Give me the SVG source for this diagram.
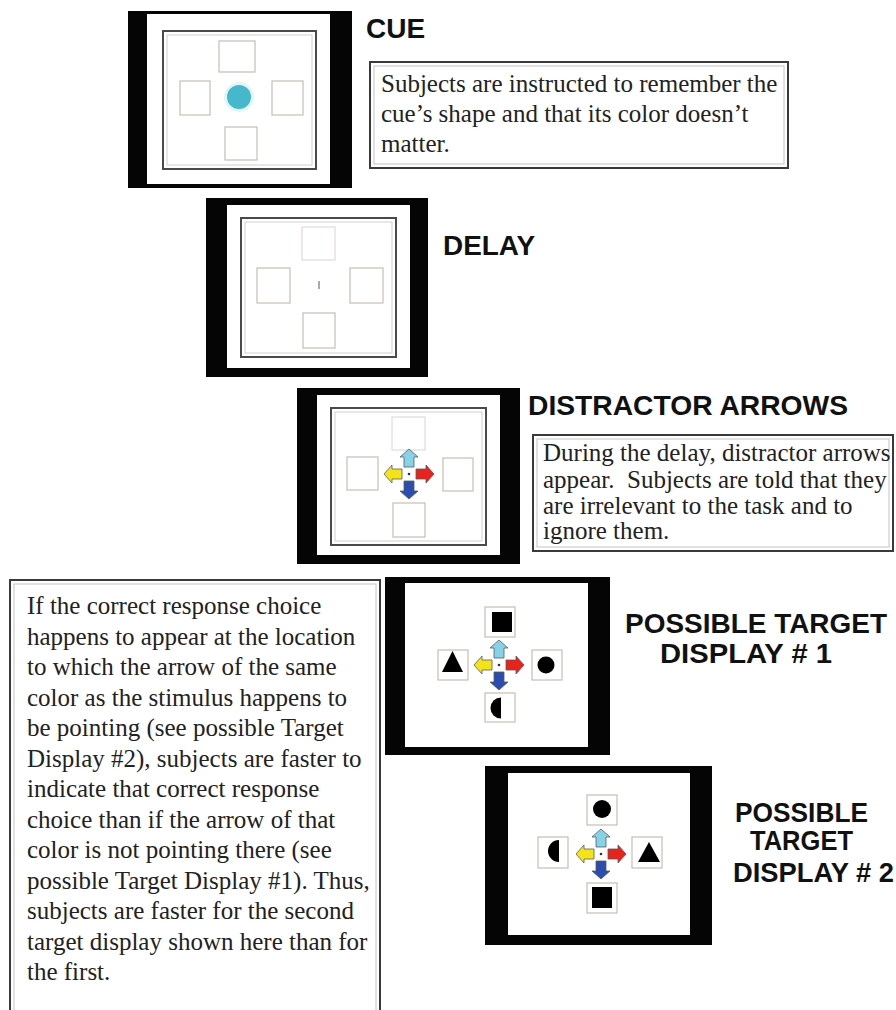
<svg xmlns="http://www.w3.org/2000/svg" xmlns:xlink="http://www.w3.org/1999/xlink" width="896" height="1010" viewBox="0 0 896 1010">
<style>
.frame{fill:#050505}
.screen{fill:#fff}
.inner{fill:none;stroke:#4a4a4a;stroke-width:2}
.inner2{fill:none;stroke:#cfcfcf;stroke-width:1}
.slot{fill:#fff;stroke:#c9bcb4;stroke-width:1.2}
.faint{fill:#fff;stroke:#ddd4ce;stroke-width:1}
.shape{fill:#000}
.title{font-family:"Liberation Sans",Arial,sans-serif;font-weight:bold;font-size:28px;fill:#111}
.body{font-family:"Liberation Serif","Times New Roman",serif;font-size:25px;fill:#222}
.box{fill:#fff;stroke:#3a3a3a;stroke-width:2}
.box2{fill:none;stroke:#c4c4c4;stroke-width:1}
.arrow{stroke:#5a5a5a;stroke-width:0.8}
</style>
<defs>
<path id="arr" d="M0,-25 L9,-17 L5,-17 L5,-7 L-5,-7 L-5,-17 L-9,-17 Z"/>
<g id="arrows">
<use xlink:href="#arr" class="arrow" fill="#86d2e6"/>
<use xlink:href="#arr" class="arrow" fill="#f3e41a" transform="rotate(-90)"/>
<use xlink:href="#arr" class="arrow" fill="#e8221c" transform="rotate(90)"/>
<use xlink:href="#arr" class="arrow" fill="#2a4db0" transform="rotate(180)"/>
<circle r="1.3" fill="#333"/>
</g>
</defs>
<rect width="896" height="1010" fill="#fff"/>

<g id="panel-cue">
<rect class="frame" x="128" y="11" width="224" height="177"/>
<rect class="screen" x="147" y="14" width="183" height="170"/>
<rect class="inner" x="163" y="31" width="153" height="138"/>
<rect class="inner2" x="167" y="35" width="145" height="130"/>
<rect class="slot" x="219" y="41" width="36" height="31"/>
<rect class="slot" x="180" y="81" width="30" height="34"/>
<rect class="slot" x="272" y="81" width="31" height="34"/>
<rect class="slot" x="225" y="127" width="32" height="33"/>
<circle cx="239" cy="97" r="15" fill="#e3f5f8"/>
<circle cx="239" cy="97" r="12" fill="#45b8cb"/>
</g>

<g id="panel-delay">
<rect class="frame" x="206" y="198" width="222" height="179"/>
<rect class="screen" x="227" y="205" width="183" height="163"/>
<rect class="inner" x="241" y="218" width="155" height="139"/>
<rect class="inner2" x="245" y="222" width="147" height="131"/>
<rect class="faint" x="302" y="227" width="33" height="33"/>
<rect class="slot" x="257" y="268" width="33" height="35"/>
<rect class="slot" x="350" y="268" width="33" height="35"/>
<rect class="slot" x="303" y="313" width="32" height="35"/>
<line x1="319" y1="281" x2="319" y2="289" stroke="#555" stroke-width="1"/>
</g>

<g id="panel-distractor">
<rect class="frame" x="297" y="388" width="223" height="176"/>
<rect class="screen" x="317" y="395" width="183" height="160"/>
<rect class="inner" x="331" y="408" width="155" height="137"/>
<rect class="inner2" x="335" y="412" width="147" height="129"/>
<rect class="faint" x="392" y="417" width="33" height="33"/>
<rect class="slot" x="347" y="457" width="31" height="33"/>
<rect class="slot" x="443" y="458" width="30" height="33"/>
<rect class="slot" x="393" y="503" width="32" height="34"/>
<use xlink:href="#arrows" transform="translate(409,474)"/>
</g>

<g id="panel-target1">
<rect class="frame" x="385" y="577" width="225" height="178"/>
<rect class="screen" x="405" y="583" width="183" height="164"/>
<rect class="slot" x="485" y="607" width="30" height="30"/>
<rect class="shape" x="492" y="612" width="20" height="20"/>
<rect class="slot" x="438" y="650" width="30" height="30"/>
<polygon class="shape" points="452.5,651 463,672 442,672"/>
<rect class="slot" x="532" y="650" width="30" height="30"/>
<circle class="shape" cx="546" cy="665" r="8.5"/>
<rect class="slot" x="485" y="693" width="30" height="29"/>
<path class="shape" d="M501,697.5 A10.5,10.5 0 0 0 501,718.5 Z"/>
<use xlink:href="#arrows" transform="translate(499,665)"/>
</g>

<g id="panel-target2">
<rect class="frame" x="485" y="766" width="227" height="179"/>
<rect class="screen" x="508" y="773" width="182" height="162"/>
<rect class="slot" x="587" y="795" width="30" height="30"/>
<circle class="shape" cx="602" cy="809" r="9"/>
<rect class="slot" x="538" y="837" width="30" height="31"/>
<path class="shape" d="M559,840 A11,11 0 0 0 559,862 Z"/>
<rect class="slot" x="632" y="837" width="30" height="31"/>
<polygon class="shape" points="649,842 660,862 638,862"/>
<rect class="slot" x="587" y="883" width="30" height="30"/>
<rect class="shape" x="592" y="887" width="20" height="21"/>
<use xlink:href="#arrows" transform="translate(601,854)"/>
</g>

<g id="label-cue">
<text class="title" x="366" y="38">CUE</text>
</g>
<g id="label-delay">
<text class="title" x="443" y="255" textLength="92" lengthAdjust="spacingAndGlyphs">DELAY</text>
</g>
<g id="label-distractor">
<text class="title" x="528" y="415" textLength="320" lengthAdjust="spacingAndGlyphs">DISTRACTOR ARROWS</text>
</g>
<g id="label-target1">
<text class="title" x="625" y="633" textLength="262" lengthAdjust="spacingAndGlyphs">POSSIBLE TARGET</text>
<text class="title" x="660" y="663" textLength="172" lengthAdjust="spacingAndGlyphs">DISPLAY # 1</text>
</g>
<g id="label-target2">
<text class="title" x="735" y="822" textLength="133" lengthAdjust="spacingAndGlyphs">POSSIBLE</text>
<text class="title" x="750" y="850" textLength="103" lengthAdjust="spacingAndGlyphs">TARGET</text>
<text class="title" x="733" y="882" textLength="161" lengthAdjust="spacingAndGlyphs">DISPLAY # 2</text>
</g>

<g id="note-cue">
<rect class="box" x="370" y="62" width="418" height="106"/>
<rect class="box2" x="374" y="66" width="410" height="98"/>
<text class="body" x="381" y="92">Subjects are instructed to remember the</text>
<text class="body" x="381" y="122">cue’s shape and that its color doesn’t</text>
<text class="body" x="381" y="152">matter.</text>
</g>

<g id="note-distractor">
<rect class="box" x="533" y="435" width="360" height="116"/>
<rect class="box2" x="537" y="439" width="352" height="108"/>
<text class="body" x="543" y="461">During the delay, distractor arrows</text>
<text class="body" x="543" y="488" xml:space="preserve">appear.  Subjects are told that they</text>
<text class="body" x="543" y="514">are irrelevant to the task and to</text>
<text class="body" x="543" y="539">ignore them.</text>
</g>

<g id="note-explanation">
<rect class="box" x="10" y="580" width="370" height="440"/>
<rect class="box2" x="14" y="584" width="362" height="440"/>
<text class="body" x="27" y="614">If the correct response choice</text>
<text class="body" x="27" y="644.5">happens to appear at the location</text>
<text class="body" x="27" y="675">to which the arrow of the same</text>
<text class="body" x="27" y="705.5">color as the stimulus happens to</text>
<text class="body" x="27" y="736">be pointing (see possible Target</text>
<text class="body" x="27" y="766.5">Display #2), subjects are faster to</text>
<text class="body" x="27" y="797">indicate that correct response</text>
<text class="body" x="27" y="827.5">choice than if the arrow of that</text>
<text class="body" x="27" y="858">color is not pointing there (see</text>
<text class="body" x="27" y="888.5">possible Target Display #1). Thus,</text>
<text class="body" x="27" y="919">subjects are faster for the second</text>
<text class="body" x="27" y="949.5">target display shown here than for</text>
<text class="body" x="27" y="980">the first.</text>
</g>
</svg>
